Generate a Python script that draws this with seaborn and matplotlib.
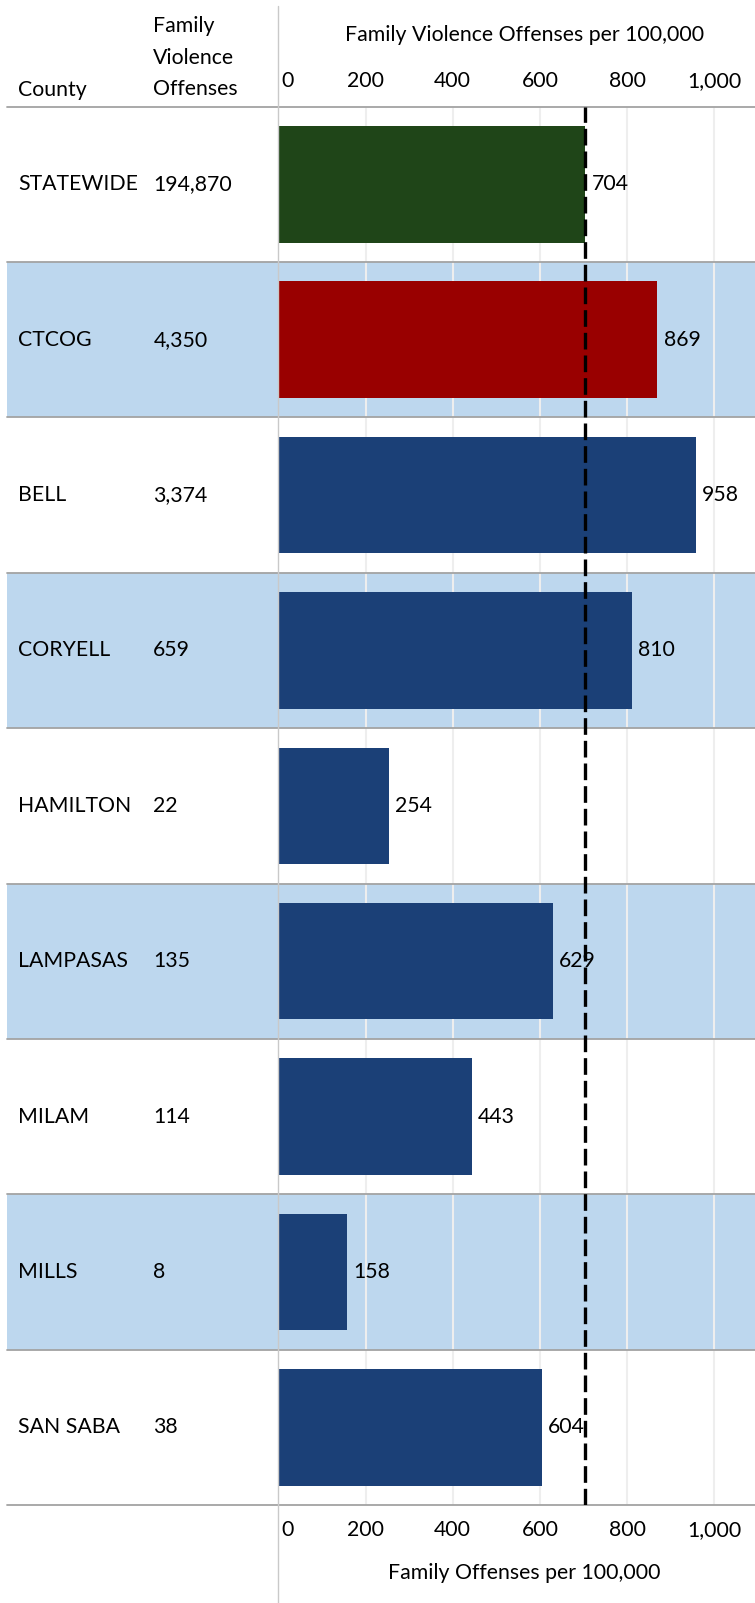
import matplotlib
matplotlib.use("Agg")
import matplotlib.pyplot as plt
import matplotlib.transforms as mtransforms
from matplotlib.lines import Line2D
import seaborn as sns
import numpy as np
import pandas as pd

# data
counties = ["STATEWIDE", "CTCOG", "BELL", "CORYELL", "HAMILTON",
            "LAMPASAS", "MILAM", "MILLS", "SAN SABA"]
offenses = ["194,870", "4,350", "3,374", "659", "22", "135", "114", "8", "38"]
rate_per_100k = [704, 869, 958, 810, 254, 629, 443, 158, 604]
statewide_rate = 704
x_ticks = [0, 200, 400, 600, 800, 1000]
x_tick_labels = ["0", "200", "400", "600", "800", "1,000"]

bar_colors = ["#1F4518", "#990000"] + ["#1B4077"] * 7
band_color = "#BDD7EE"
rule_color = "#A3A3A3"

W, H = 755, 1603
ax_left, ax_top, ax_bottom = 278.3, 106.7, 1505.0

sns.set_style("white")
plt.rcParams["font.family"] = ["Lato", "DejaVu Sans"]
plt.rcParams["text.color"] = "black"
plt.rcParams["xtick.color"] = "black"
FS = 15.3

df = pd.DataFrame({"County": counties, "Rate": rate_per_100k})

fig = plt.figure(figsize=(W / 100, H / 100), dpi=100)
ax = fig.add_axes([ax_left / W, 1 - ax_bottom / H,
                   (W - ax_left) / W, (ax_bottom - ax_top) / H])
ax.patch.set_alpha(0)

sns.barplot(data=df, x="Rate", y="County", hue="County", palette=bar_colors,
            orient="h", width=0.75, saturation=1, legend=False, ax=ax,
            linewidth=0, zorder=2)

ax.set_xlim(0, 1093)
ax.set_ylim(len(counties) - 0.5, -0.5)
ax.set_yticks([])
ax.set_xlabel("")
ax.set_ylabel("")
for s in ax.spines.values():
    s.set_visible(False)

# alternating bands + row rules reaching across the label columns
band_x0 = (7 - ax_left) / (W - ax_left)
for i in range(len(counties)):
    if i % 2 == 1:
        ax.axhspan(i - 0.5, i + 0.5, xmin=band_x0, xmax=1, color=band_color,
                   zorder=0, clip_on=False, lw=0)
for b in np.arange(-0.5, len(counties)):
    ax.axhline(b, xmin=band_x0, xmax=1, color=rule_color, lw=1.3,
               clip_on=False, zorder=3)

for v in x_ticks[1:]:
    ax.axvline(v, color="#EEEEEE", lw=1.5, zorder=0.5)

# statewide reference line
ax.axvline(statewide_rate, color="black", lw=2.4, dashes=(5, 1.8), zorder=6)

# ticks top and bottom
ax.set_xticks(x_ticks)
ax.set_xticklabels(x_tick_labels)
ax.tick_params(axis="x", length=0, labelsize=FS, top=False, bottom=False,
               labeltop=True, labelbottom=True, pad=11)
shift = mtransforms.ScaledTranslation(3 / 100, 0, fig.dpi_scale_trans)
t0 = ax.xaxis.get_major_ticks()[0]
for lbl in (t0.label1, t0.label2):
    lbl.set_horizontalalignment("left")
    lbl.set_transform(lbl.get_transform() + shift)

# value labels
for i, v in enumerate(rate_per_100k):
    ax.annotate(f"{v}", (v, i), xytext=(4.5, 0), textcoords="offset points",
                va="center", ha="left", fontsize=FS, zorder=4)

# table columns
row_tr = mtransforms.blended_transform_factory(fig.transFigure, ax.transData)
for i, (c, n) in enumerate(zip(counties, offenses)):
    ax.text(18.4 / W, i, c, transform=row_tr, va="center", ha="left", fontsize=FS)
    ax.text(153.3 / W, i, n, transform=row_tr, va="center", ha="left", fontsize=FS)

fig.text(18.4 / W, 1 - 90 / H, "County", va="center", ha="left", fontsize=FS)
for y, word in zip([26.5, 58, 89], ["Family", "Violence", "Offenses"]):
    fig.text(153.3 / W, 1 - y / H, word, va="center", ha="left", fontsize=FS)

fig.text(524.6 / W, 1 - 35 / H, "Family Violence Offenses per 100,000",
         va="center", ha="center", fontsize=FS)
fig.text(524.6 / W, 1 - 1573 / H, "Family Offenses per 100,000",
         va="center", ha="center", fontsize=FS)

fig.add_artist(Line2D([ax_left / W] * 2, [1 - 6 / H, 0], transform=fig.transFigure,
                      color="#C9C9C9", lw=1))

fig.savefig("out.png", dpi=100)
plt.close(fig)
